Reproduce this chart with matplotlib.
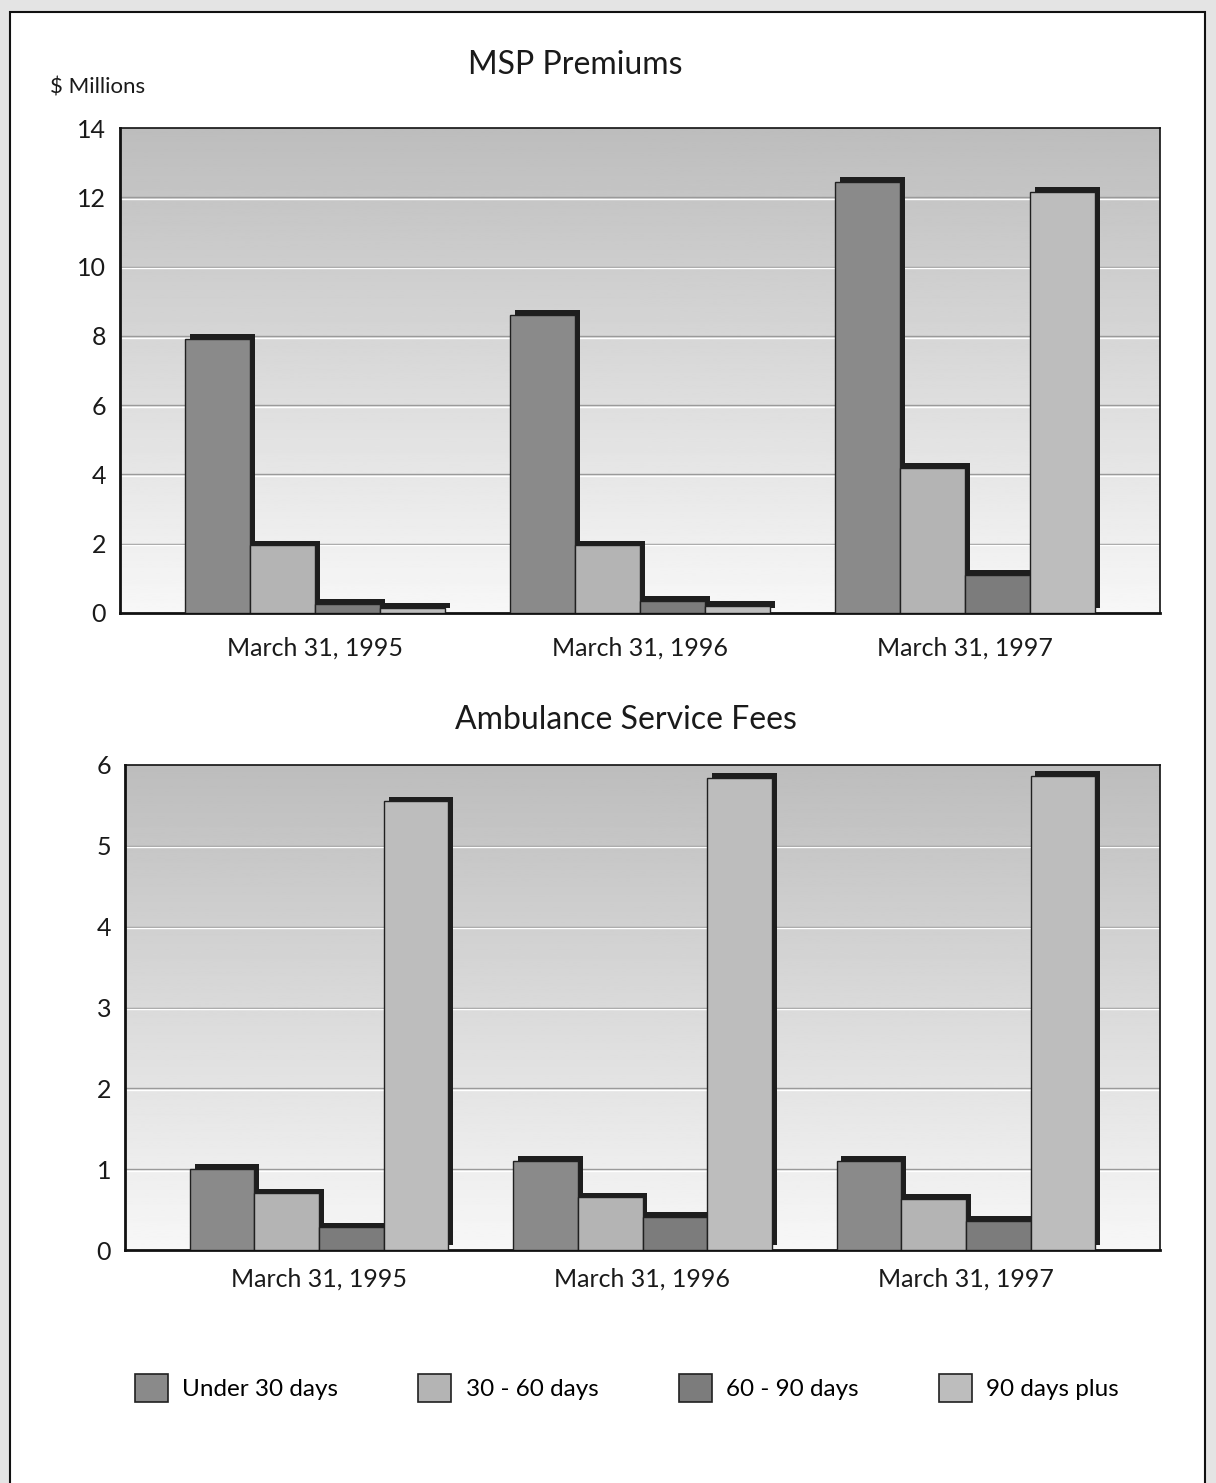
"""Aged accounts receivable bar charts: MSP premiums and ambulance service fees."""

import matplotlib

matplotlib.use("Agg")
import matplotlib.pyplot as plt
import matplotlib.patheffects as pe
import numpy as np
from matplotlib.patches import Patch, Rectangle

plt.rcParams["font.family"] = ["Lato", "DejaVu Sans"]

PERIODS = ["March 31, 1995", "March 31, 1996", "March 31, 1997"]
AGE_BUCKETS = ["Under 30 days", "30 - 60 days", "60 - 90 days", "90 days plus"]

# $ millions, one list per age bucket (values for 1995, 1996, 1997)
MSP_UNDER_30 = [7.9, 8.6, 12.45]
MSP_30_60 = [1.95, 1.95, 4.2]
MSP_60_90 = [0.25, 0.35, 1.1]
MSP_90_PLUS = [0.15, 0.2, 12.15]

AMB_UNDER_30 = [1.0, 1.1, 1.1]
AMB_30_60 = [0.7, 0.65, 0.63]
AMB_60_90 = [0.28, 0.41, 0.36]
AMB_90_PLUS = [5.55, 5.84, 5.87]

MSP_TICKS = [0, 2, 4, 6, 8, 10, 12, 14]
AMB_TICKS = [0, 1, 2, 3, 4, 5, 6]

BAR_COLORS = ["#8a8a8a", "#b4b4b4", "#7c7c7c", "#bdbdbd"]
BAR_WIDTH = 0.2
FONT_TICK = 18
FONT_TITLE = 23
W, H = 1216, 1483


def gradient_background(ax):
    grad = np.linspace(0.97, 0.74, 256).reshape(-1, 1)
    ax.imshow(
        grad,
        extent=[0, 1, 0, 1],
        transform=ax.transAxes,
        cmap="gray",
        vmin=0,
        vmax=1,
        aspect="auto",
        origin="lower",
        zorder=0,
    )


def draw_panel(ax, series, ticks, xpad):
    gradient_background(ax)
    x = np.arange(len(PERIODS))
    offsets = (np.arange(len(series)) - (len(series) - 1) / 2) * BAR_WIDTH
    shadow = [pe.SimplePatchShadow(offset=(3.5, 3.5), shadow_rgbFace="#1e1e1e", alpha=1.0), pe.Normal()]
    for values, offset, color in zip(series, offsets, BAR_COLORS):
        bars = ax.bar(
            x + offset,
            values,
            width=BAR_WIDTH,
            color=color,
            edgecolor="#202020",
            linewidth=1.0,
            zorder=3,
        )
        for bar in bars:
            bar.set_path_effects(shadow)

    ax.set_xlim(-0.6, 2.6)
    ax.set_ylim(0, ticks[-1])
    ax.set_yticks(ticks)
    ax.set_xticks(x)
    ax.set_xticklabels(PERIODS, fontsize=FONT_TICK)
    ax.tick_params(axis="both", length=0, labelsize=FONT_TICK, colors="#1a1a1a")
    ax.tick_params(axis="x", pad=xpad)
    ax.tick_params(axis="y", pad=10)
    for t in ticks[1:-1]:
        ax.axhline(t, color="#9a9a9a", linewidth=1.0, zorder=1)
        ax.axhline(t, color="#ffffff", linewidth=1.0, zorder=1, alpha=0.8,
                   path_effects=[pe.Stroke(offset=(0, -1.2), linewidth=1.0, foreground="#ffffff")])
    for spine in ax.spines.values():
        spine.set_color("#111111")
        spine.set_linewidth(1.2)
    ax.spines["left"].set_linewidth(2.0)
    ax.spines["bottom"].set_linewidth(2.0)


fig = plt.figure(figsize=(W / 100, H / 100), dpi=100)
fig.patch.set_facecolor("#e4e4e4")
fig.patches.append(
    Rectangle(
        (10 / W, -0.01),
        1195 / W,
        1 - 12 / H + 0.01,
        transform=fig.transFigure,
        facecolor="white",
        edgecolor="#111111",
        linewidth=1.5,
        zorder=-5,
    )
)

ax_top = fig.add_axes([120 / W, 1 - 613 / H, 1040 / W, 485 / H])
draw_panel(ax_top, [MSP_UNDER_30, MSP_30_60, MSP_60_90, MSP_90_PLUS], MSP_TICKS, xpad=17)
fig.text(575 / W, 1 - 65 / H, "MSP Premiums", fontsize=FONT_TITLE, ha="center", va="center", color="#1a1a1a")
fig.text(50 / W, 1 - 87 / H, "$ Millions", fontsize=16, va="center", ha="left", color="#1a1a1a")

ax_bot = fig.add_axes([125 / W, 1 - 1250 / H, 1035 / W, 485 / H])
draw_panel(ax_bot, [AMB_UNDER_30, AMB_30_60, AMB_60_90, AMB_90_PLUS], AMB_TICKS, xpad=13)
fig.text(626 / W, 1 - 720 / H, "Ambulance Service Fees", fontsize=FONT_TITLE, ha="center", va="center",
         color="#1a1a1a")

handles = [Patch(facecolor=c, edgecolor="#202020", linewidth=1.2) for c in BAR_COLORS]
fig.legend(
    handles,
    AGE_BUCKETS,
    loc="center",
    bbox_to_anchor=(627 / W, 1 - 1388 / H),
    ncol=4,
    frameon=False,
    fontsize=17.5,
    handlelength=1.35,
    handleheight=1.45,
    handletextpad=0.6,
    columnspacing=3.3,
)

fig.savefig("out.png", dpi=100, facecolor=fig.get_facecolor())
